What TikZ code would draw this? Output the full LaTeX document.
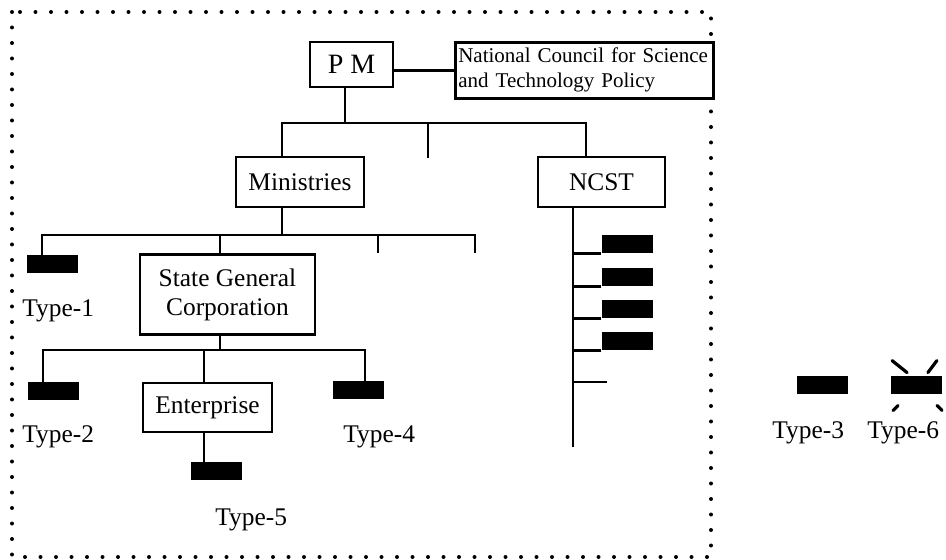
\documentclass[tikz,border=0pt]{standalone}
\usepackage{fontspec}
\setmainfont{Liberation Serif}
\tikzset{
    orgbox/.style={draw,line width=1.3pt,inner sep=1pt,align=center,font=\fontsize{12.7}{14.5}\selectfont},
    typeblk/.style={fill=black,minimum width=25.5pt,minimum height=9pt,inner sep=0pt},
    typelbl/.style={inner sep=0pt,anchor=base west,font=\fontsize{12.7}{14.5}\selectfont},
    link/.style={line width=1.4pt},
    dotframe/.style={line width=2pt,line cap=round,dash pattern=on 0pt off 7.75pt},
    ray/.style={line width=1.6pt,line cap=round},
}
\begin{document}
\begin{tikzpicture}[x=0.5pt,y=-0.5pt]
    \useasboundingbox (0,0) rectangle (946,560);
    \draw[dotframe] (12,12) rectangle (711,557); % dotted frame

    % PM and the council beside it
    \node[orgbox,minimum width=41.5pt,minimum height=22.5pt,font=\fontsize{14}{16}\selectfont] (pm) at (351.5,64.5) {P M};
    \node[orgbox,anchor=north west,text width=126pt,minimum height=28pt,align=left,inner sep=1.5pt,fill=white,font=\fontsize{10.5}{12.5}\selectfont] (ncstp) at (454,41) {National Council for Science\\and Technology Policy};
    \draw[link] (ncstp.west) -- (ncstp.west -| pm.east);

    % second level
    \node[orgbox,minimum width=64pt,minimum height=25pt] (min) at (300,182) {Ministries};
    \node[orgbox,minimum width=63.5pt,minimum height=25pt] (ncst) at (601.5,182) {NCST};
    \coordinate (pmbot) at (345,87);
    \coordinate (bus1) at (345,123);
    \coordinate (mintop) at (282,157);
    \coordinate (ncsttop) at (586,157);
    \coordinate (stub1) at (428,158);
    \draw[link] (pmbot) -- (bus1);
    \draw[link] (mintop) |- (bus1) -| (ncsttop);
    \draw[link] (stub1) -- (stub1 |- bus1);

    % under the ministries
    \node[orgbox,minimum width=87.5pt,minimum height=40pt] (sgc) at (227.5,294.5) {State General\\Corporation};
    \node[typeblk] (t1) at (52.5,264) {};
    \node[typelbl] (l1) at (22,317) {Type-1};
    \coordinate (minbot) at (282,207);
    \coordinate (bus2) at (282,235);
    \coordinate (t1top) at (42,255);
    \coordinate (sgctop) at (220,254.5);
    \coordinate (stub2) at (378,253);
    \coordinate (stub3) at (475,253);
    \draw[link] (minbot) -- (bus2);
    \draw[link] (t1top) |- (bus2) -| (stub3);
    \draw[link] (sgctop) -- (sgctop |- bus2);
    \draw[link] (stub2) -- (stub2 |- bus2);

    % under the corporation
    \node[orgbox,minimum width=64.5pt,minimum height=24.5pt] (ent) at (207.5,407.5) {Enterprise};
    \node[typeblk] (t2) at (53.5,391.5) {};
    \node[typeblk] (t4) at (358,390.5) {};
    \node[typeblk] (t5) at (216,471) {};
    \node[typelbl] (l2) at (22,443) {Type-2};
    \node[typelbl] (l4) at (343,443) {Type-4};
    \node[typelbl] (l5) at (215,525) {Type-5};
    \coordinate (sgcbot) at (220,334.5);
    \coordinate (bus3) at (220,350);
    \coordinate (t2top) at (43,383);
    \coordinate (t4top) at (365,381);
    \coordinate (enttop) at (204,383);
    \coordinate (entbot) at (204,432);
    \draw[link] (sgcbot) -- (bus3);
    \draw[link] (t2top) |- (bus3) -| (t4top);
    \draw[link] (enttop) -- (enttop |- bus3);
    \draw[link] (entbot) -- (entbot |- t5.north);

    % NCST line with its units
    \coordinate (ncstbot) at (573,207);
    \coordinate (ncstend) at (573,447);
    \draw[link] (ncstbot) -- (ncstend);
    \node[typeblk] (n1) at (627,244) {};
    \node[typeblk] (n2) at (627,277) {};
    \node[typeblk] (n3) at (627,309) {};
    \node[typeblk] (n4) at (627,341) {};
    \draw[link] (n1.south west) -- (n1.south west -| ncstend);
    \draw[link] (n2.south west) -- (n2.south west -| ncstend);
    \draw[link] (n3.south west) -- (n3.south west -| ncstend);
    \draw[link] (n4.south west) -- (n4.south west -| ncstend);
    \coordinate (stub4) at (607,382);
    \draw[link] (stub4) -- (stub4 -| ncstend);

    % key
    \node[typeblk] (t3) at (822,385) {};
    \node[typeblk] (t6) at (916,385) {};
    \node[typelbl] (l3) at (772,438) {Type-3};
    \node[typelbl] (l6) at (867,438) {Type-6};
    \draw[ray] ([shift={(2,-15)}]t6.north west) -- ([shift={(17,-3)}]t6.north west);
    \draw[ray] ([shift={(-5,-15)}]t6.north east) -- ([shift={(-14,-3)}]t6.north east);
    \draw[ray] ([shift={(3,16)}]t6.south west) -- ([shift={(8,11)}]t6.south west);
    \draw[ray] ([shift={(0,16)}]t6.south east) -- ([shift={(-5,11)}]t6.south east);
\end{tikzpicture}
\end{document}
